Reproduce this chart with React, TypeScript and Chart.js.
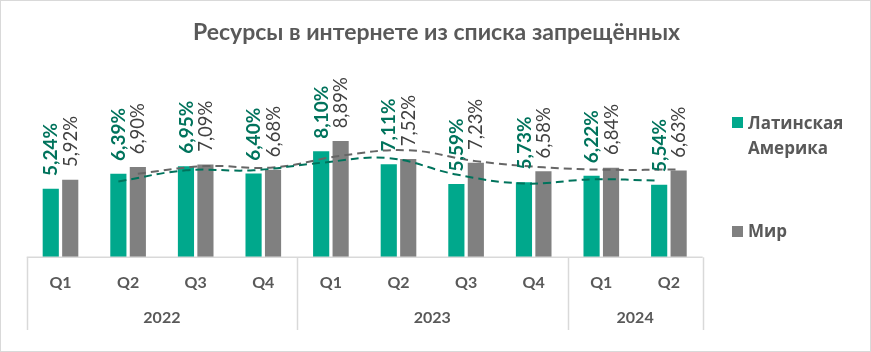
import React, { useEffect, useRef } from "react";
import { Chart, registerables } from "chart.js";

Chart.register(...registerables);

const title = "Ресурсы в интернете из списка запрещённых";
const quarters = ["Q1", "Q2", "Q3", "Q4", "Q1", "Q2", "Q3", "Q4", "Q1", "Q2"];
const yearLabels = ["2022", "2023", "2024"];
const yearSpans = [4, 4, 2];
const latamName = "Латинская Америка";
const worldName = "Мир";
const latam = [5.24, 6.39, 6.95, 6.4, 8.1, 7.11, 5.59, 5.73, 6.22, 5.54];
const world = [5.92, 6.9, 7.09, 6.68, 8.89, 7.52, 7.23, 6.58, 6.84, 6.63];

const GREEN = "#00A88C";
const GREEN_DARK = "#00735C";
const GRAY = "#808080";
const GRAY_DARK = "#666666";
const TEXT = "#595959";
const LABEL_GRAY = "#404040";
const LINE = "#D9D9D9";

// offset of each series' bar centre inside a category (in category units)
const OFF = 0.144;

const movingAvg = (arr: number[]) =>
  arr.map((v, i) => (i === 0 ? null : (v + arr[i - 1]) / 2));

const fmt = (v: number) => v.toFixed(2).replace(".", ",") + "%";

const toPoints = (arr: (number | null)[], shift: number) =>
  arr
    .map((v, i) => (v === null ? null : { x: i + 0.5 + shift, y: v }))
    .filter((p) => p !== null);

const decorPlugin = {
  id: "decor",
  beforeDraw(chart: any) {
    const { ctx, width, height } = chart;
    ctx.save();
    ctx.fillStyle = "#ffffff";
    ctx.fillRect(0, 0, width, height);
    ctx.strokeStyle = LINE;
    ctx.lineWidth = 1;
    ctx.strokeRect(0.5, 0.5, width - 1, height - 1);
    ctx.restore();
  },
  afterDraw(chart: any) {
    const { ctx, chartArea } = chart;
    const { left, right, bottom } = chartArea;
    const xs = chart.scales.x;
    ctx.save();
    // title
    ctx.fillStyle = TEXT;
    ctx.font = "bold 23px Lato";
    ctx.textAlign = "center";
    ctx.textBaseline = "alphabetic";
    ctx.fillText(title, chart.width / 2 + 1, 40);

    // axis line
    ctx.strokeStyle = LINE;
    ctx.lineWidth = 1.5;
    ctx.beginPath();
    ctx.moveTo(left, bottom);
    ctx.lineTo(right, bottom);
    ctx.stroke();

    // separators
    let idx = 0;
    const bounds = [0];
    yearSpans.forEach((s) => {
      idx += s;
      bounds.push(idx);
    });
    bounds.forEach((b) => {
      const x = Math.round(xs.getPixelForValue(b)) + 0.5;
      ctx.beginPath();
      ctx.moveTo(x, bottom);
      ctx.lineTo(x, 330);
      ctx.stroke();
    });

    // quarter labels
    ctx.fillStyle = TEXT;
    ctx.font = "bold 16px Lato";
    ctx.textAlign = "center";
    ctx.textBaseline = "middle";
    quarters.forEach((q, i) => {
      ctx.fillText(q, xs.getPixelForValue(i + 0.5), 283);
    });
    // year labels
    yearLabels.forEach((y, i) => {
      ctx.fillText(y, xs.getPixelForValue((bounds[i] + bounds[i + 1]) / 2), 318);
    });

    // legend
    ctx.textAlign = "left";
    ctx.textBaseline = "alphabetic";
    ctx.font = "bold 17px 'Open Sans'";
    ctx.fillStyle = GREEN;
    ctx.fillRect(732, 117, 11, 11);
    ctx.fillStyle = TEXT;
    const parts = latamName.split(" ");
    ctx.fillText(parts[0], 748, 128.5);
    ctx.fillText(parts[1], 748, 153.5);
    ctx.fillStyle = GRAY;
    ctx.fillRect(732, 226, 11, 11);
    ctx.fillStyle = TEXT;
    ctx.fillText(worldName, 748, 237);
    ctx.restore();
  },
  afterDatasetsDraw(chart: any) {
    const { ctx } = chart;
    ctx.save();
    const series = [latam, world];
    [0, 1].forEach((di) => {
      const meta = chart.getDatasetMeta(di);
      ctx.font = di === 0 ? "bold 19px Lato" : "18.5px Lato";
      ctx.fillStyle = di === 0 ? GREEN_DARK : LABEL_GRAY;
      ctx.textAlign = "left";
      ctx.textBaseline = "middle";
      meta.data.forEach((el: any, i: number) => {
        ctx.save();
        ctx.translate(el.x + 0.5, el.y - 13);
        ctx.rotate(-Math.PI / 2);
        ctx.fillText(fmt(series[di][i]), 0, 0);
        ctx.restore();
      });
    });
    ctx.restore();
  },
};

export default function App() {
  const ref = useRef<HTMLCanvasElement>(null);
  useEffect(() => {
    const chart = new Chart(ref.current!, {
      type: "bar",
      data: {
        datasets: [
          {
            type: "bar",
            label: latamName,
            data: toPoints(latam, -OFF) as any,
            backgroundColor: GREEN,
            grouped: false,
            barThickness: 15.5,
            order: 2,
          },
          {
            type: "bar",
            label: worldName,
            data: toPoints(world, OFF) as any,
            backgroundColor: GRAY,
            grouped: false,
            barThickness: 15.5,
            order: 2,
          },
          {
            type: "line",
            label: "ma-latam",
            data: toPoints(movingAvg(latam), -OFF) as any,
            borderColor: GREEN_DARK,
            borderWidth: 2,
            borderDash: [8, 5],
            pointRadius: 0,
            tension: 0.4,
            fill: false,
            order: 0,
          },
          {
            type: "line",
            label: "ma-world",
            data: toPoints(movingAvg(world), OFF) as any,
            borderColor: GRAY_DARK,
            borderWidth: 2,
            borderDash: [8, 5],
            pointRadius: 0,
            tension: 0.4,
            fill: false,
            order: 0,
          },
        ] as any,
      },
      options: {
        responsive: false,
        animation: false,
        devicePixelRatio: 1,
        layout: { padding: { left: 26.7, right: 168.3, top: 61.7, bottom: 94.7 } },
        plugins: { legend: { display: false }, tooltip: { enabled: false }, title: { display: false } },
        scales: {
          x: { type: "linear", display: false, min: 0, max: quarters.length, offset: false },
          y: { display: false, min: 0, max: 15 },
        },
      } as any,
      plugins: [decorPlugin],
    });
    return () => chart.destroy();
  }, []);
  return (
    <div style={{ position: "absolute", left: 0, top: 0, width: 871, height: 352 }}>
      <canvas ref={ref} width={871} height={352} style={{ width: 871, height: 352, display: "block" }} />
    </div>
  );
}
